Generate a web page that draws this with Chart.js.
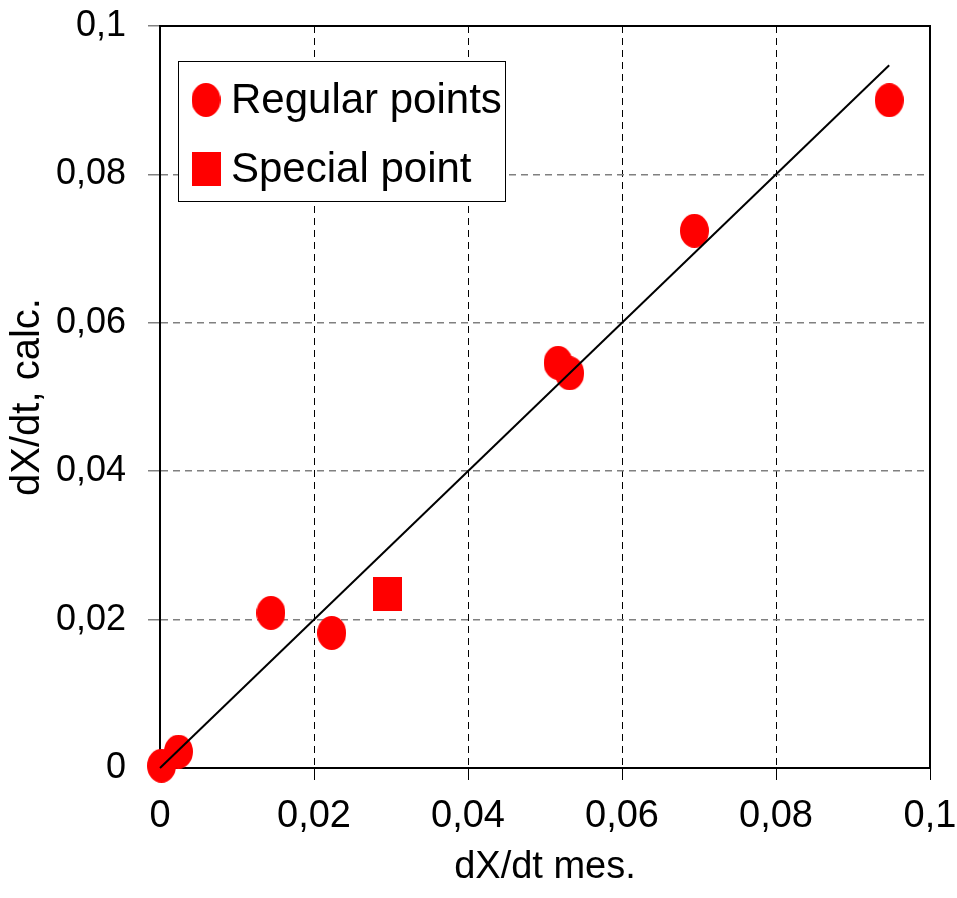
<!DOCTYPE html>
<html>
<head>
<meta charset="utf-8">
<title>dX/dt calc vs mes</title>
<script src="https://cdn.jsdelivr.net/npm/chart.js@4"></script>
<style>
  html, body { margin: 0; padding: 0; background: #fff; }
</style>
</head>
<body>
<canvas id="chart" width="957" height="898"></canvas>
<script>
// values
const regularX = [0.0002, 0.0024, 0.0144, 0.0223, 0.0517, 0.0532, 0.0694, 0.0947];
const regularY = [0.0003, 0.0022, 0.0209, 0.0182, 0.0546, 0.0532, 0.0724, 0.0900];
const specialX = [0.0295];
const specialY = [0.0235];
const lineX = [0, 0.0947];
const lineY = [0, 0.0947];
const xTickLabels = ['0', '0,02', '0,04', '0,06', '0,08', '0,1'];
const yTickLabels = ['0', '0,02', '0,04', '0,06', '0,08', '0,1'];

const FONT = '"Liberation Sans", Arial, sans-serif';

function makeMarker(w, h, round) {
    const c = document.createElement('canvas');
    c.width = w;
    c.height = h;
    const g = c.getContext('2d');
    g.fillStyle = '#ff0000';
    if (round) {
        g.beginPath();
        g.ellipse(w / 2, h / 2, w / 2, h / 2, 0, 0, Math.PI * 2);
        g.fill();
    } else {
        g.fillRect(0, 0, w, h);
    }
    return c;
}

const ellipse = makeMarker(29, 34, true);
const square = makeMarker(29, 34, false);

function toPoints(xs, ys) {
    return xs.map((x, i) => ({ x: x, y: ys[i] }));
}

// fixed axis sizes, no extra room for overhanging labels
function fixSize(prop, size) {
    return function (scale) {
        scale[prop] = size;
        scale.paddingTop = 0;
        scale.paddingBottom = 0;
        scale.paddingLeft = 0;
        scale.paddingRight = 0;
    };
}

// black frame round the plot area, under the markers
const framePlugin = {
    id: 'frame',
    beforeDatasetsDraw(chart) {
        const a = chart.chartArea;
        const ctx = chart.ctx;
        ctx.save();
        ctx.strokeStyle = '#000';
        ctx.lineWidth = 2;
        ctx.setLineDash([]);
        ctx.strokeRect(a.left, a.top, a.right - a.left, a.bottom - a.top);
        ctx.restore();
    }
};

// boxed legend in the top-left corner of the plot
const legendPlugin = {
    id: 'boxLegend',
    afterDraw(chart) {
        const ctx = chart.ctx;
        const a = chart.chartArea;
        const bx = a.left + 18, by = a.top + 35, bw = 327, bh = 140;
        ctx.save();
        ctx.fillStyle = '#fff';
        ctx.fillRect(bx, by, bw, bh);
        ctx.strokeStyle = '#000';
        ctx.lineWidth = 1;
        ctx.strokeRect(bx + 0.5, by + 0.5, bw, bh);
        const items = [
            { img: ellipse, label: chart.data.datasets[0].label, cy: by + 39 },
            { img: square, label: chart.data.datasets[1].label, cy: by + 108 }
        ];
        ctx.font = '42px ' + FONT;
        ctx.fillStyle = '#000';
        ctx.textBaseline = 'middle';
        items.forEach(it => {
            ctx.drawImage(it.img, bx + 28 - it.img.width / 2, it.cy - it.img.height / 2);
            ctx.fillText(it.label, bx + 53, it.cy + 1);
        });
        ctx.restore();
    }
};

new Chart(document.getElementById('chart'), {
    type: 'scatter',
    data: {
        datasets: [
            {
                label: 'Regular points',
                data: toPoints(regularX, regularY),
                pointStyle: ellipse,
                clip: false,
                order: 2
            },
            {
                label: 'Special point',
                data: toPoints(specialX, specialY),
                pointStyle: square,
                clip: false,
                order: 2
            },
            {
                type: 'line',
                label: 'y = x',
                data: toPoints(lineX, lineY),
                borderColor: '#000',
                borderWidth: 2,
                pointRadius: 0,
                fill: false,
                clip: false,
                order: 1
            }
        ]
    },
    options: {
        responsive: false,
        animation: false,
        events: [],
        layout: { padding: { top: 26, right: 27, left: 0, bottom: 0 } },
        plugins: {
            legend: { display: false },
            tooltip: { enabled: false }
        },
        scales: {
            x: {
                type: 'linear',
                min: 0,
                max: 0.1,
                afterFit: fixSize('height', 130),
                ticks: {
                    stepSize: 0.02,
                    maxRotation: 0,
                    autoSkip: false,
                    padding: 14,
                    color: '#000',
                    font: { size: 38, family: FONT },
                    callback: (v, i) => xTickLabels[i]
                },
                grid: {
                    color: '#000',
                    lineWidth: 1,
                    tickLength: 12,
                    tickColor: '#000',
                    tickBorderDash: []
                },
                border: { display: true, color: '#000', width: 2, dash: [7, 5] },
                title: {
                    display: true,
                    text: 'dX/dt mes.',
                    color: '#000',
                    font: { size: 38, family: FONT },
                    padding: { top: 0, bottom: 8 }
                }
            },
            y: {
                type: 'linear',
                min: 0,
                max: 0.1,
                afterFit: fixSize('width', 160),
                ticks: {
                    stepSize: 0.02,
                    autoSkip: false,
                    padding: 22,
                    color: '#000',
                    font: { size: 36, family: FONT },
                    callback: (v, i) => yTickLabels[i]
                },
                grid: {
                    color: '#808080',
                    lineWidth: 1.5,
                    tickLength: 12,
                    tickColor: '#808080',
                    tickBorderDash: []
                },
                border: { display: true, color: '#000', width: 2, dash: [7, 5] },
                title: {
                    display: true,
                    text: 'dX/dt, calc.',
                    color: '#000',
                    font: { size: 40, family: FONT },
                    padding: { top: 4, bottom: 0 }
                }
            }
        }
    },
    plugins: [framePlugin, legendPlugin]
});
</script>
</body>
</html>
